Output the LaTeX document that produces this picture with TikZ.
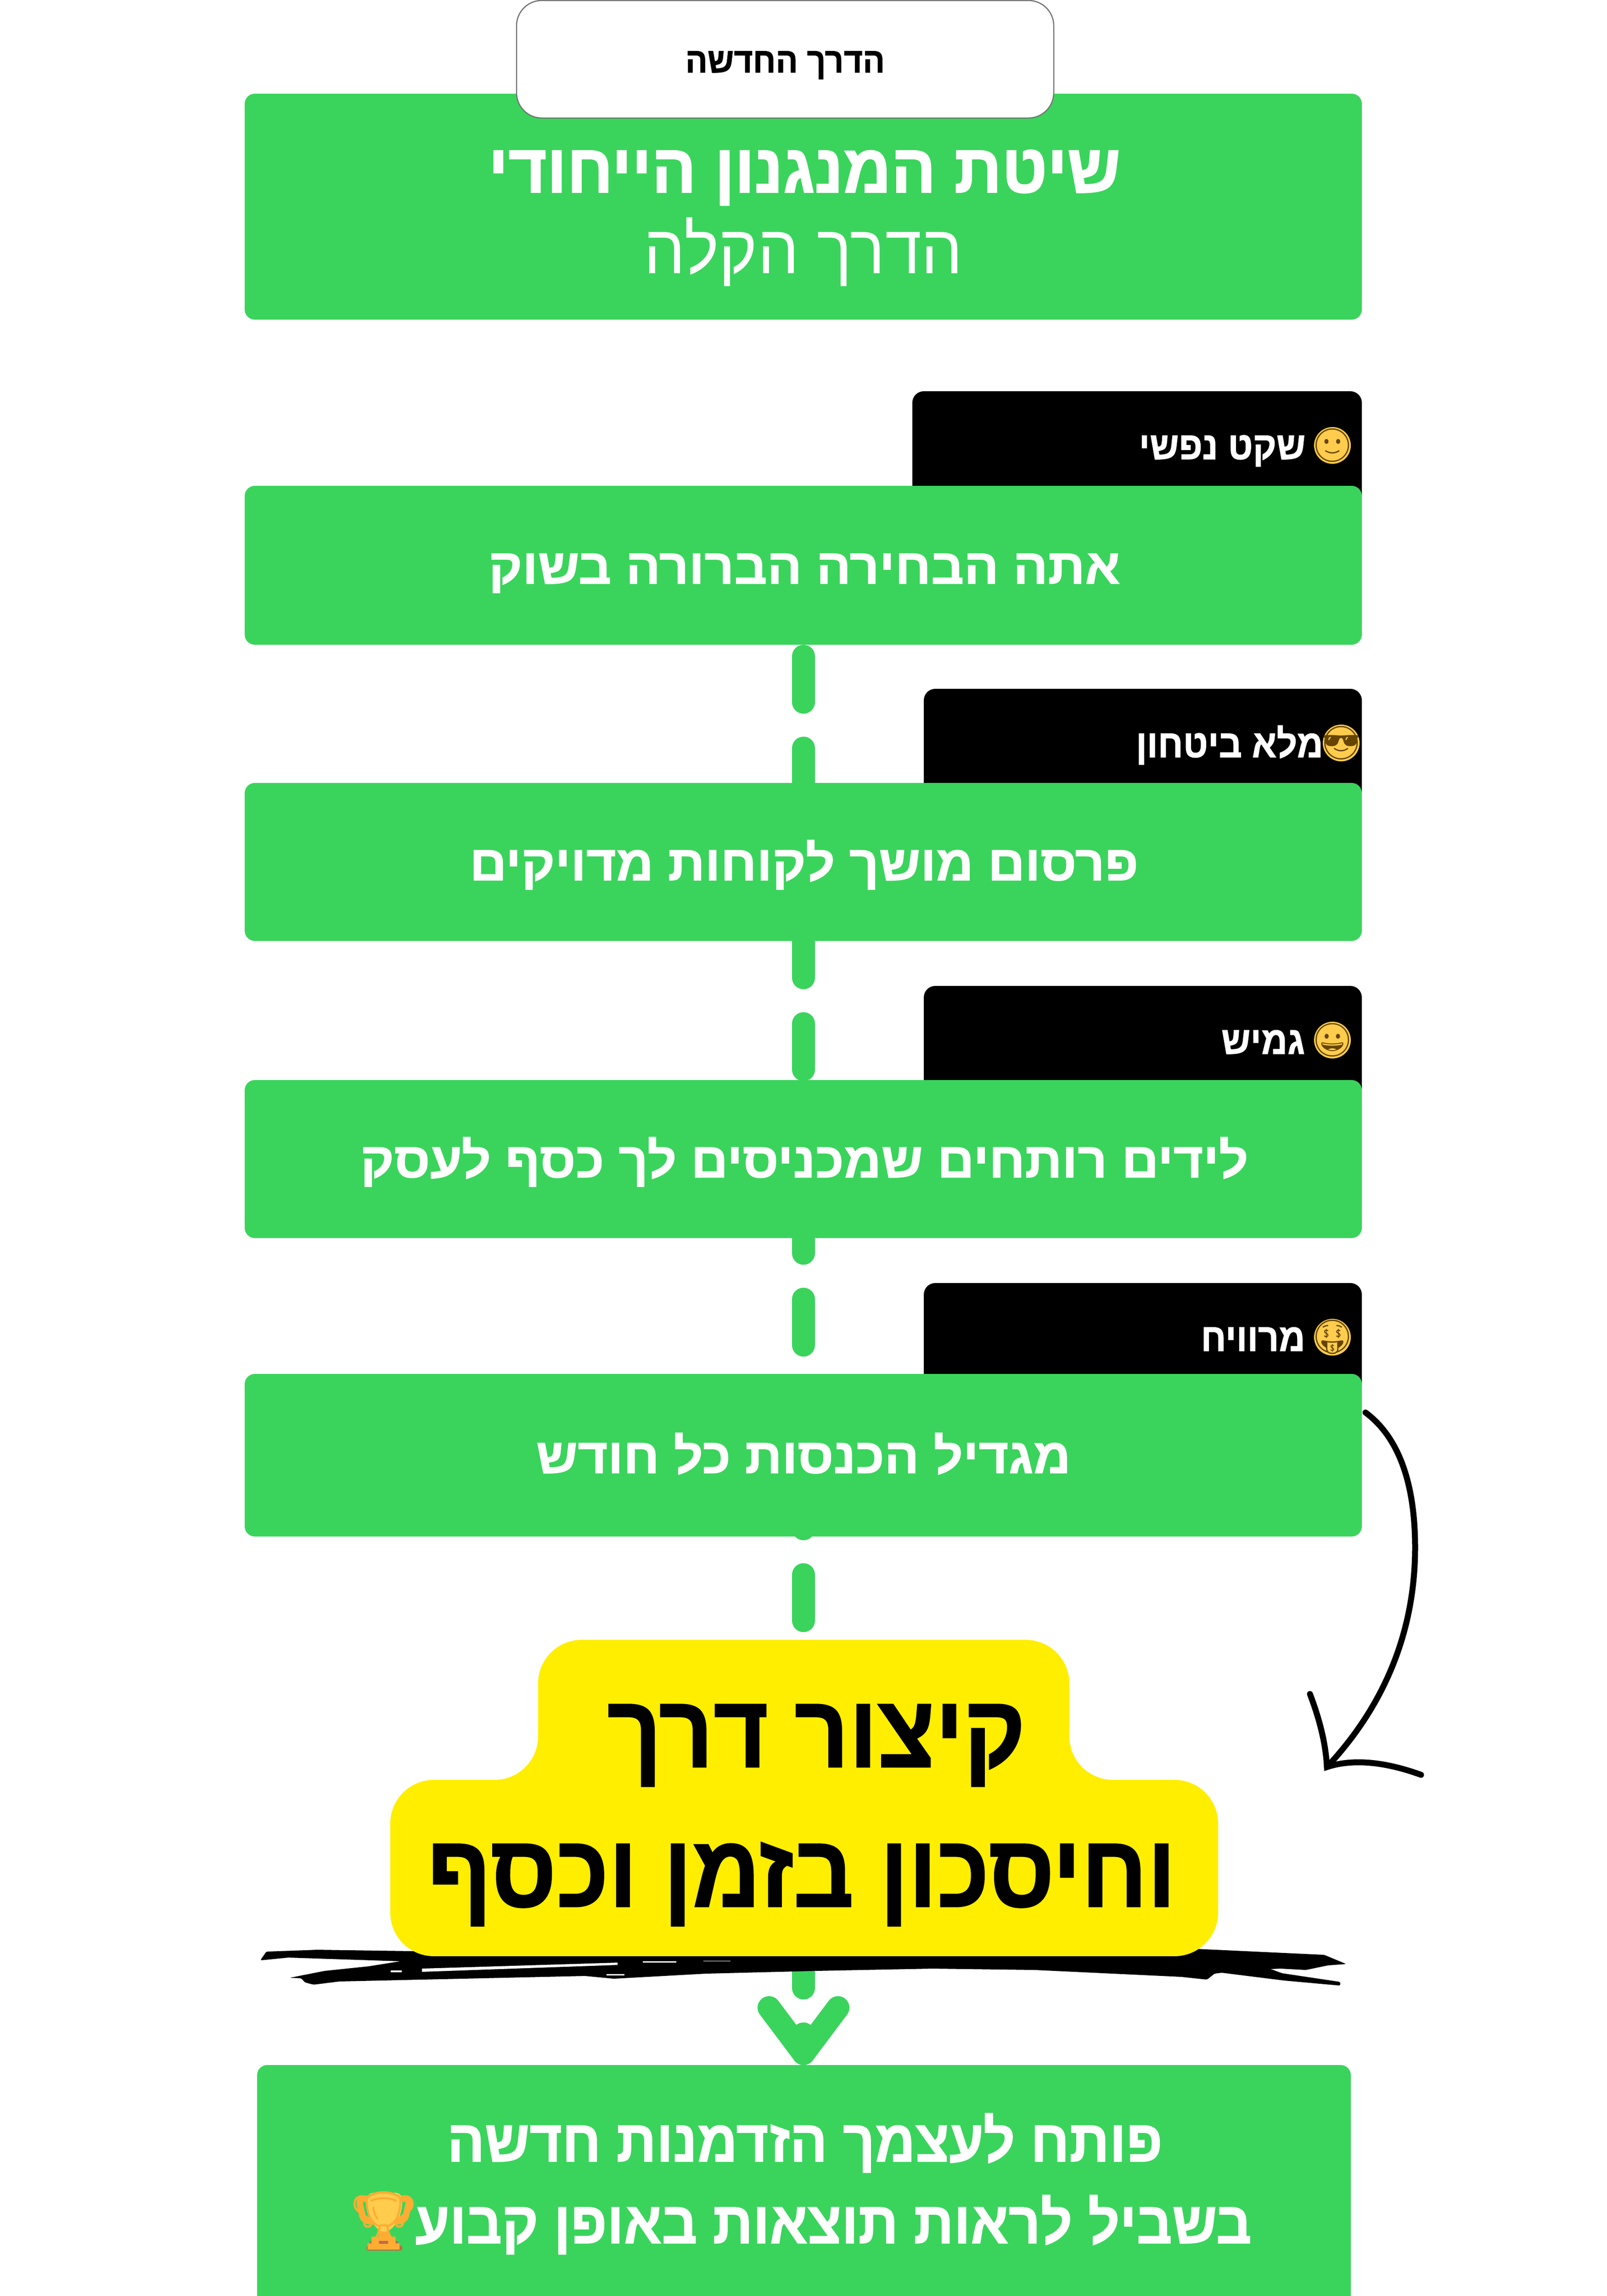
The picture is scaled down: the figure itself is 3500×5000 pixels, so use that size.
\documentclass[tikz,border=0pt]{standalone}
\usepackage{fontspec}
\usepackage{tikz}
\usetikzlibrary{backgrounds}
\TeXXeTstate=1
\newfontfamily\hebfont[Script=Hebrew,FakeStretch=0.95]{Liberation Sans}
\newfontfamily\hebbold[Script=Hebrew,FakeBold=1.2,FakeStretch=0.925]{Liberation Sans Bold}
\newfontfamily\hebwide[Script=Hebrew,FakeBold=1.2,FakeStretch=1.04]{Liberation Sans Bold}
\newfontfamily\hebhead[Script=Hebrew,FakeBold=1.6,FakeStretch=0.96]{Liberation Sans Bold}
\newfontfamily\hebend[Script=Hebrew,FakeBold=1.2,FakeStretch=0.94]{Liberation Sans Bold}
\newfontfamily\hebbig[Script=Hebrew,FakeBold=1.2,FakeStretch=0.915]{Liberation Sans Bold}
\newfontfamily\emojifont{Noto Emoji}
\newcommand{\heb}[1]{\beginR #1\endR}
\definecolor{brandgreen}{HTML}{3AD45C}
\definecolor{brandyellow}{HTML}{FFEE00}
\definecolor{facegold}{HTML}{FFCC4D}
\definecolor{facebrown}{HTML}{664500}
\definecolor{cuporange}{HTML}{FFAC33}
\definecolor{cupbase}{HTML}{C1694F}

\begin{document}
\begin{tikzpicture}[x=1pt, y=-1pt,
    greenbox/.style={rectangle, fill=brandgreen, rounded corners=22pt, minimum width=2433pt, inner sep=0pt},
    tagbox/.style={rectangle, fill=black, rounded corners=25pt, inner sep=0pt},
    tabbox/.style={rectangle, draw=black!55, line width=2.5pt, fill=white, rounded corners=55pt, minimum width=1170pt, minimum height=256pt, inner sep=0pt},
    boxtext/.style={anchor=base, inner sep=0pt, text=white, font=\hebwide\fontsize{108}{120}\selectfont},
    titletext/.style={boxtext, font=\hebhead\fontsize{150}{160}\selectfont},
    lighttext/.style={boxtext, font=\hebfont\fontsize{150}{160}\selectfont},
    tagtext/.style={boxtext, font=\hebbold\fontsize{85}{96}\selectfont},
    tabtext/.style={boxtext, text=black, font=\hebbold\fontsize{77}{86}\selectfont},
    bigtext/.style={boxtext, text=black, font=\hebbig\fontsize{225}{240}\selectfont},
    endtext/.style={boxtext, font=\hebend\fontsize{129}{140}\selectfont},
    facechip/.style={circle, fill=facegold, text=facebrown, minimum size=80pt, inner sep=-19pt, font=\emojifont\fontsize{72}{72}\selectfont},
    flowline/.style={draw=brandgreen, line width=50pt, line cap=round, dash pattern=on 100pt off 100pt, dash phase=175pt},
    chevron/.style={draw=brandgreen, line width=50pt, line cap=round, line join=round},
    sketchline/.style={draw=black, line width=13pt, line cap=round}]

    \useasboundingbox (0,0) rectangle (3500,5000);

    % Black tags, their lower part hidden by the boxes
    \node [tagbox, minimum width=979pt, minimum height=250pt] (tagcalm) at (2476.5,977) {};
    \node [tagbox, minimum width=954pt, minimum height=250pt] (tagsure) at (2489,1625) {};
    \node [tagbox, minimum width=954pt, minimum height=250pt] (tagflex) at (2489,2272) {};
    \node [tagbox, minimum width=954pt, minimum height=250pt] (tagprofit) at (2489,2919) {};

    % Green boxes
    \node [greenbox, minimum height=492pt] (headbox) at (1749.5,450) {};
    \node [greenbox, minimum height=346pt] (choicebox) at (1749.5,1231) {};
    \node [greenbox, minimum height=344pt] (adbox) at (1749.5,1877) {};
    \node [greenbox, minimum height=344pt] (leadbox) at (1749.5,2524) {};
    \node [greenbox, minimum height=354pt] (incomebox) at (1749.5,3169) {};
    \node [greenbox, minimum width=2382pt, minimum height=530pt] (endbox) at (1751,4762) {};
    \node [tabbox] (tabbox) at (1710,129) {};

    % Dashed flow behind the boxes
    \coordinate (chevronleft) at (1675,4372);
    \coordinate (chevrontip) at (1750,4472);
    \coordinate (chevronright) at (1825,4372);
    \begin{scope}[on background layer]
        \path [flowline] (choicebox.south -| chevrontip) -- (chevrontip);
    \end{scope}
    \path [chevron] (chevronleft) -- (chevrontip) -- (chevronright);

    % Brush stroke under the yellow label
    \fill [black, rounded corners=3pt] (567,4269) -- (580,4250) -- (691,4246) -- (899,4249) -- (2605,4244) -- (2884,4257) -- (2932,4277) -- (2892,4280) -- (2844,4290) -- (2789,4287) -- (2722,4290) -- (2722,4283) -- (2765,4287) -- (2792,4297) -- (2919,4316) -- (2919,4324) -- (2797,4313) -- (2661,4296) -- (2645,4298) -- (2629,4311) -- (2573,4305) -- (2254,4290) -- (2031,4287) -- (1776,4292) -- (1537,4298) -- (1337,4309) -- (1274,4303) -- (739,4315) -- (683,4322) -- (664,4317) -- (656,4308) -- (631,4307) -- (707,4292) -- (803,4282) -- (872,4271) -- (628,4263) -- cycle;
    \fill [white] (919,4287) -- (1345,4274) -- (1345,4279) -- (919,4294) -- cycle;
    \fill [white] (851,4291) rectangle (875,4295);
    \fill [white] (1400,4271) rectangle (1473,4274);
    \fill [white] (1532,4270) rectangle (1591,4271);
    \fill [white] (1321,4299) rectangle (1360,4302);

    % Yellow label
    \fill [brandyellow, rounded corners=95pt] (1172,3571) -- (2329,3571) -- (2329,3876) -- (2653,3876) -- (2653,4260) -- (850,4260) -- (850,3876) -- (1172,3876) -- cycle;

    % Hand drawn arrow
    \coordinate (curvestart) at (2974,3076);
    \coordinate (curvetip) at (2890,3848);
    \coordinate (barbleft) at (2853,3689);
    \coordinate (barbright) at (3095,3865);
    \path [sketchline] (curvestart) .. controls (3060,3140) and (3082,3260) .. (3082,3370) .. controls (3082,3560) and (3010,3720) .. (curvetip);
    \path [sketchline] (barbleft) .. controls (2880,3760) and (2888,3810) .. (curvetip) .. controls (2960,3825) and (3040,3845) .. (barbright);

    % Texts
    \node [tabtext] (tablabel) at (1710,158) {\heb{הדרך החדשה}};
    \node [titletext] (headlabel) at (1752,419) {\heb{שיטת המנגנון הייחודי}};
    \node [lighttext] (sublabel) at (1750,595) {\heb{הדרך הקלה}};
    \node [tagtext] (calmlabel) at (2662,1000) {\heb{שקט נפשי}};
    \node [tagtext] (surelabel) at (2678,1649) {\heb{מלא ביטחון}};
    \node [tagtext] (flexlabel) at (2751,2295) {\heb{גמיש}};
    \node [tagtext] (profitlabel) at (2729,2942) {\heb{מרוויח}};
    \node [boxtext] (choicelabel) at (1752,1271) {\heb{אתה הבחירה הברורה בשוק}};
    \node [boxtext] (adlabel) at (1751,1917) {\heb{פרסום מושך לקוחות מדויקים}};
    \node [boxtext] (leadlabel) at (1752,2564) {\heb{לידים רותחים שמכניסים לך כסף לעסק}};
    \node [boxtext] (incomelabel) at (1750,3208) {\heb{מגדיל הכנסות כל חודש}};
    \node [bigtext] (shortlabel) at (1778,3848) {\heb{קיצור דרך}};
    \node [bigtext] (savelabel) at (1746,4152) {\heb{וחיסכון בזמן וכסף}};
    \node [endtext] (openlabel) at (1753,4707) {\heb{פותח לעצמך הזדמנות חדשה}};
    \node [endtext] (seelabel) at (1815,4885) {\heb{בשביל לראות תוצאות באופן קבוע}};

    % Emoji
    \node [facechip] (calmface) at (2902,970) {🙂};
    \node [facechip] (sureface) at (2921,1618) {😎};
    \node [facechip] (flexface) at (2902,2265) {😀};
    \node [facechip] (profitface) at (2902,2912) {🤑};

    % Trophy, coloured in under its glyph
    \draw [cuporange, line width=14pt, rounded corners=12pt] (781,4788) -- (792,4837) -- (881,4837) -- (893,4788) -- cycle;
    \fill [cuporange] (828,4855) -- (846,4855) -- (853,4882) -- (822,4882) -- cycle;
    \fill [facegold] (799,4795) .. controls (799,4780) and (805,4775) .. (815,4775) -- (860,4775) .. controls (870,4775) and (876,4780) .. (876,4795) .. controls (876,4830) and (855,4860) .. (837,4860) .. controls (820,4860) and (799,4830) .. (799,4795) -- cycle;
    \fill [cupbase, rounded corners=4pt] (805,4880) rectangle (868,4895);
    \fill [cupbase, rounded corners=4pt] (798,4890) rectangle (876,4901);
    \node [inner sep=0pt, text=cuporange, font=\emojifont\fontsize{125}{125}\selectfont] (trophy) at (836,4836) {🏆};
\end{tikzpicture}
\end{document}
